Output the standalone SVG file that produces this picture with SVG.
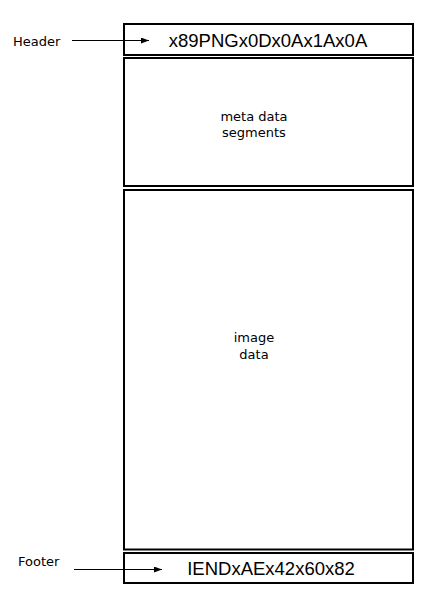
<svg xmlns="http://www.w3.org/2000/svg" width="424" height="605" viewBox="0 0 424 605">
<defs>
<marker id="ah" markerWidth="8" markerHeight="6" refX="8" refY="3" orient="auto" markerUnits="userSpaceOnUse">
<path d="M0,0 L8,3 L0,6 Z" fill="#000"/>
</marker>
<style>
.box{fill:#fff;stroke:#000;stroke-width:2}
.lbl{font-family:"DejaVu Sans",sans-serif;font-size:13px;fill:#000}
.big{font-family:"Liberation Sans",Arial,sans-serif;font-size:18.5px;fill:#000;text-anchor:middle}
.mid{font-family:"DejaVu Sans",sans-serif;font-size:13px;fill:#000;text-anchor:middle}
.con{stroke:#000;stroke-width:1.2;fill:none;marker-end:url(#ah)}
</style>
</defs>
<rect width="424" height="605" fill="#fff"/>
<g id="header">
<rect class="box" x="124" y="24" width="289" height="31"/>
<text class="big" x="268" y="47">x89PNGx0Dx0Ax1Ax0A</text>
</g>
<g id="meta">
<rect class="box" x="124" y="58" width="289" height="128"/>
<text class="mid" x="254" y="121">meta data</text>
<text class="mid" x="254" y="137">segments</text>
</g>
<g id="image">
<rect class="box" x="124" y="190" width="289" height="359.5"/>
<text class="mid" x="254" y="342">image</text>
<text class="mid" x="254" y="359">data</text>
</g>
<g id="footer">
<rect class="box" x="124" y="553" width="289" height="30"/>
<text class="big" x="271" y="575">IENDxAEx42x60x82</text>
</g>
<g id="header-label"><text class="lbl" x="13" y="46">Header</text></g>
<g id="footer-label"><text class="lbl" x="18" y="566">Footer</text></g>
<g id="connectors">
<line class="con" x1="72" y1="40.5" x2="149" y2="40.5"/>
<line class="con" x1="74" y1="569.5" x2="162" y2="569.5"/>
</g>
</svg>
